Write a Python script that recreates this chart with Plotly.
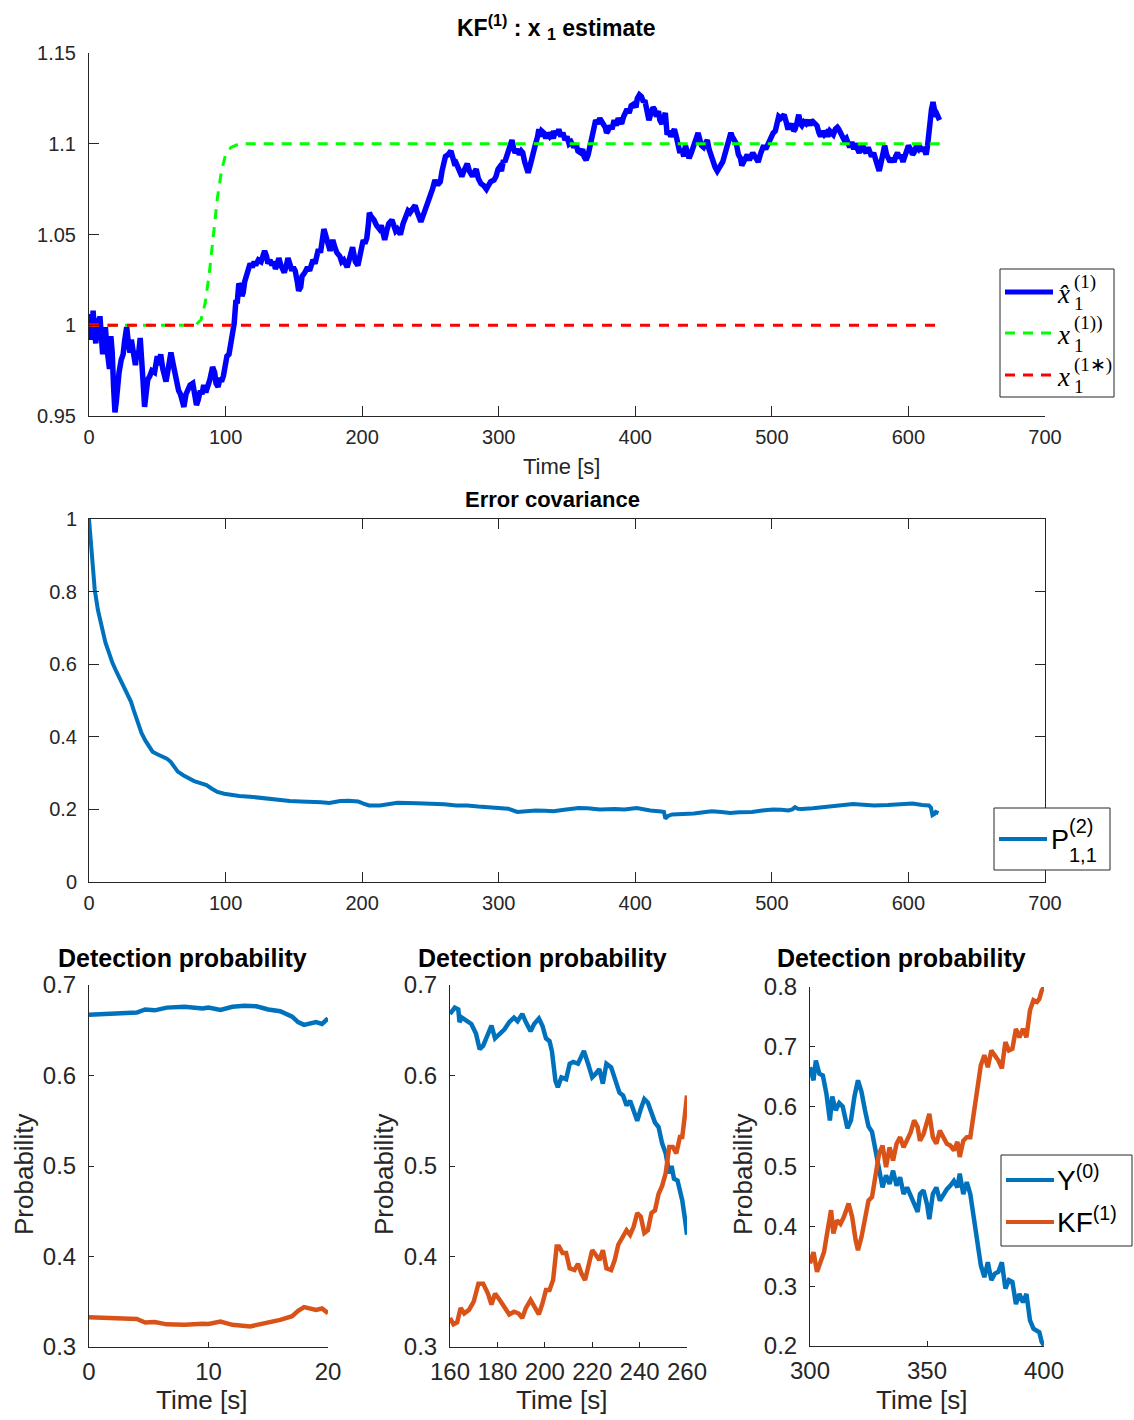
import plotly.graph_objects as go

# ---------------------------------------------------------------- data
# KF(1) estimate of x1 over time: (time [s], value)
x1_hat = [
    (0, 0.999), (1, 1.006), (2, 0.992), (3, 1.008), (4, 0.996), (5, 0.99), (6, 1.004), (7, 0.992),
    (8, 1.005), (9, 0.995), (10, 0.984), (11, 0.992), (12, 0.999), (13, 0.988), (14, 0.982), (15, 0.976),
    (16, 0.994), (17, 0.985), (18, 0.966), (19, 0.952), (20, 0.958), (21, 0.967), (22, 0.974), (23.6, 0.981),
    (25, 0.984), (26, 0.991), (27.6, 0.999), (29, 0.989), (30, 0.985), (31, 0.992), (32, 0.985), (33, 0.979),
    (34, 0.978), (35, 0.986), (36, 0.982), (37.5, 0.993), (38.5, 0.984), (39.5, 0.970), (40.7, 0.955), (42, 0.962),
    (43, 0.970), (44.5, 0.972), (46, 0.975), (48, 0.974), (50, 0.983), (51, 0.978), (52.5, 0.984), (54, 0.976),
    (55, 0.973), (56.4, 0.969), (58, 0.976), (60, 0.985), (61.5, 0.979), (63, 0.972), (65.6, 0.964), (67, 0.962),
    (68, 0.958), (69.5, 0.955), (71, 0.962), (72.5, 0.965), (74, 0.967), (76, 0.968), (77, 0.963), (78.7, 0.956),
    (80, 0.959), (81.5, 0.964), (82.7, 0.962), (84, 0.967), (85.5, 0.963), (87, 0.966), (88.5, 0.97), (90.5, 0.977),
    (92, 0.974), (93, 0.968), (94.5, 0.966), (96, 0.971), (97, 0.969), (98.4, 0.972), (100, 0.978), (101, 0.983),
    (102.5, 0.984), (104, 0.99), (105, 0.995), (106.3, 1.001), (107.6, 1.014), (108.5, 1.012), (109.7, 1.023), (111, 1.021),
    (112, 1.016), (112.9, 1.018), (114, 1.024), (115.5, 1.028), (117, 1.03), (118, 1.034), (119.5, 1.032), (121, 1.035),
    (122, 1.033), (124, 1.036), (126, 1.035), (127.5, 1.038), (128.6, 1.041), (130, 1.038), (131, 1.034), (132.5, 1.036),
    (134, 1.033), (135.3, 1.035), (136.5, 1.031), (138, 1.034), (139, 1.037), (140.5, 1.033), (142, 1.031), (143, 1.029),
    (144.5, 1.033), (145.7, 1.037), (147, 1.034), (148.5, 1.030), (149.6, 1.032), (151, 1.030), (152.5, 1.024), (153.5, 1.019),
    (155, 1.021), (156, 1.027), (158, 1.029), (160, 1.032), (161.5, 1.03), (163, 1.034), (164, 1.036), (165.5, 1.034),
    (167, 1.039), (168, 1.042), (169.5, 1.040), (171, 1.046), (172, 1.053), (173.5, 1.049), (175.3, 1.045), (176.5, 1.041),
    (177.5, 1.044), (178.5, 1.047), (180, 1.043), (181.5, 1.04), (183.7, 1.038), (185, 1.035), (186.5, 1.036), (188, 1.033),
    (189, 1.032), (190.5, 1.036), (192, 1.04), (193, 1.043), (194, 1.039), (195, 1.035), (196.9, 1.033), (198.5, 1.04),
    (200, 1.044), (200.8, 1.047), (202, 1.045), (203.4, 1.048), (204.5, 1.055), (205.3, 1.062), (206.5, 1.06), (208.7, 1.058),
    (210.5, 1.055), (212.6, 1.053), (214, 1.055), (215.5, 1.05), (216.5, 1.047), (218, 1.052), (219.5, 1.056), (221.8, 1.058),
    (223, 1.055), (224.5, 1.052), (225.7, 1.053), (227, 1.051), (228, 1.05), (230, 1.056), (231.5, 1.06), (233.6, 1.063),
    (235, 1.062), (236.5, 1.064), (238.8, 1.066), (240, 1.063), (241.5, 1.06), (243, 1.057), (244, 1.059), (245.5, 1.062),
    (247, 1.066), (249.3, 1.069), (250.5, 1.071), (251.5, 1.075), (253.3, 1.08), (254.5, 1.078), (256, 1.078), (257.2, 1.079),
    (258.5, 1.085), (259.5, 1.09), (261, 1.093), (263, 1.094), (265, 1.096), (266.5, 1.092), (268, 1.088), (269, 1.089),
    (270.5, 1.086), (272, 1.083), (273, 1.082), (274.5, 1.085), (276, 1.088), (277, 1.089), (278.5, 1.085), (280, 1.083),
    (280.8, 1.082), (282, 1.084), (283.5, 1.086), (285, 1.081), (287, 1.078), (289, 1.077), (291, 1.075), (292.5, 1.077),
    (294, 1.079), (296.6, 1.08), (298, 1.082), (299.5, 1.086), (300.5, 1.087), (302, 1.085), (303.5, 1.091), (304.5, 1.09),
    (306, 1.093), (307.5, 1.097), (308.5, 1.099), (309.7, 1.102), (311, 1.097), (312, 1.095), (313.5, 1.097), (315, 1.094),
    (316.5, 1.096), (317.6, 1.095), (319, 1.09), (320.5, 1.085), (321.5, 1.084), (323, 1.088), (324.5, 1.094), (325.5, 1.095),
    (327, 1.1), (328.5, 1.104), (329.4, 1.108), (330.5, 1.104), (331.5, 1.107), (333, 1.106), (334.5, 1.103), (336, 1.106),
    (337.5, 1.104), (338.6, 1.105), (340, 1.103), (341.5, 1.107), (343, 1.105), (344, 1.108), (345.5, 1.104), (347, 1.106),
    (348.5, 1.102), (350, 1.104), (351.5, 1.1), (353, 1.101), (355, 1.098), (356.5, 1.1), (358, 1.096), (360, 1.095),
    (361.5, 1.097), (362.5, 1.093), (364, 1.091), (365.5, 1.094), (367, 1.099), (368.5, 1.105), (370, 1.11), (371, 1.113),
    (372.5, 1.111), (374, 1.114), (376.4, 1.111), (378, 1.109), (379, 1.106), (380, 1.107), (381.5, 1.11), (383, 1.108),
    (384.5, 1.113), (386, 1.11), (387.5, 1.114), (389, 1.112), (390, 1.111), (391.5, 1.115), (393, 1.118), (394, 1.119),
    (395.5, 1.117), (397, 1.121), (399, 1.122), (400.5, 1.12), (401.5, 1.125), (403, 1.127), (404.5, 1.126), (406, 1.123),
    (407, 1.124), (408, 1.12), (409, 1.115), (410, 1.113), (411.5, 1.117), (413, 1.12), (414, 1.119), (415.5, 1.115),
    (417, 1.118), (418, 1.113), (419.5, 1.111), (421, 1.114), (422, 1.117), (423.3, 1.105), (424.5, 1.107), (426, 1.104),
    (427.5, 1.106), (428.6, 1.108), (430, 1.104), (431.5, 1.099), (432.7, 1.095), (434, 1.097), (435.5, 1.093), (436.7, 1.099),
    (438, 1.096), (439.4, 1.092), (441, 1.095), (442, 1.097), (443, 1.098), (444.5, 1.101), (446, 1.106), (447, 1.103),
    (448.5, 1.099), (450, 1.098), (451.5, 1.1), (452.7, 1.102), (454, 1.097), (455.5, 1.093), (456.8, 1.089), (458.5, 1.087),
    (460, 1.085), (461, 1.086), (462.5, 1.088), (464, 1.09), (465.5, 1.094), (467, 1.098), (468.5, 1.102), (470, 1.106),
    (471, 1.104), (472.5, 1.101), (474, 1.1), (475.5, 1.094), (477, 1.092), (478, 1.088), (479.5, 1.091), (481, 1.093),
    (482, 1.094), (483.5, 1.091), (485, 1.094), (486, 1.095), (487.5, 1.093), (489, 1.09), (490, 1.09), (491.5, 1.094),
    (493, 1.097), (494, 1.099), (495.5, 1.097), (497, 1.1), (498.5, 1.102), (499.6, 1.104), (501, 1.106), (502.5, 1.107),
    (504, 1.112), (505, 1.115), (506.5, 1.114), (508, 1.116), (509, 1.116), (510.5, 1.112), (511.5, 1.109), (513, 1.109),
    (514.5, 1.111), (516, 1.107), (517, 1.108), (518.5, 1.112), (519.7, 1.116), (521, 1.111), (522, 1.11), (523.5, 1.112),
    (525, 1.111), (526.5, 1.113), (528, 1.11), (529, 1.113), (530.5, 1.112), (532, 1.111), (533, 1.11), (534.5, 1.106),
    (535.7, 1.104), (537, 1.107), (538.5, 1.105), (539.8, 1.106), (541, 1.104), (542.5, 1.107), (544, 1.105), (545, 1.105),
    (546.5, 1.108), (548, 1.109), (549, 1.108), (550.5, 1.106), (552, 1.104), (553, 1.102), (554.5, 1.103), (556, 1.099),
    (557, 1.098), (558.5, 1.101), (560, 1.097), (561, 1.1), (562.5, 1.098), (564, 1.095), (565, 1.097), (566.5, 1.099),
    (568, 1.096), (569, 1.095), (570.5, 1.098), (572, 1.094), (573, 1.093), (574.5, 1.095), (576, 1.091), (577.5, 1.088),
    (578.6, 1.085), (579.5, 1.088), (581, 1.094), (582.6, 1.099), (584, 1.094), (585.5, 1.091), (586.6, 1.09), (588, 1.092),
    (589.5, 1.09), (590.6, 1.093), (592, 1.095), (593.5, 1.092), (594.5, 1.094), (596, 1.09), (597.5, 1.093), (599, 1.096),
    (600, 1.099), (601.5, 1.097), (603, 1.094), (604, 1.095), (605.5, 1.098), (607, 1.097), (608, 1.099), (609.5, 1.096),
    (611, 1.098), (612, 1.096), (613, 1.094), (614, 1.099), (614.7, 1.106), (615.5, 1.11), (616.2, 1.115), (616.9, 1.119),
    (617.5, 1.121), (618, 1.123), (619, 1.119), (620, 1.115), (621, 1.116), (622, 1.113), (622.8, 1.113),
]

# true parameter trajectory x1^(1)) and nominal value x1^(1*)
x1_true_t = [0, 78, 82, 85, 88, 91, 94, 97, 100, 104, 110, 623]
x1_true_v = [1.0, 1.0, 1.003, 1.012, 1.028, 1.048, 1.07, 1.085, 1.094, 1.098, 1.1, 1.1]
x1_nom_t = [0, 623]
x1_nom_v = [1.0, 1.0]

# error covariance P(2)_{1,1}
p11 = [
    (0, 1.0), (1, 0.95), (2.5, 0.88), (4.2, 0.805), (6.5, 0.75), (9.5, 0.695), (12, 0.66), (14.8, 0.63),
    (17, 0.605), (20, 0.58), (23, 0.556), (25.4, 0.537), (28, 0.515), (30.7, 0.497), (33, 0.47), (36, 0.432),
    (38.5, 0.41), (41.2, 0.39), (44, 0.372), (46.5, 0.359), (50, 0.352), (54.5, 0.345), (57, 0.34), (59.8, 0.331),
    (62, 0.318), (65, 0.304), (69, 0.294), (73, 0.285), (77, 0.278), (81, 0.273), (84, 0.27), (86, 0.267),
    (90, 0.257), (94, 0.248), (99, 0.243), (104.7, 0.239), (110, 0.237), (118, 0.235), (125, 0.232), (131, 0.228),
    (138, 0.225), (147, 0.223), (155, 0.222), (163, 0.222), (170, 0.22), (176, 0.218), (180, 0.221), (184, 0.223),
    (190, 0.224), (197, 0.222), (201, 0.216), (205, 0.211), (213, 0.211), (219, 0.215), (226, 0.218), (240, 0.217),
    (253, 0.216), (260, 0.214), (269, 0.211), (277, 0.211), (285, 0.208), (293, 0.206), (300, 0.203), (307, 0.202),
    (313.6, 0.193), (320, 0.195), (327, 0.197), (334, 0.196), (340, 0.195), (348, 0.199), (358.5, 0.204), (365, 0.203),
    (374, 0.2), (385, 0.201), (392, 0.2), (401, 0.204), (406, 0.2), (411, 0.197), (419, 0.194), (421, 0.193),
    (422, 0.175), (424, 0.182), (427, 0.186), (435, 0.187), (443, 0.189), (450, 0.192), (456, 0.195), (463, 0.193),
    (469.6, 0.19), (476, 0.192), (485.5, 0.193), (493, 0.197), (501, 0.2), (507, 0.199), (512, 0.197), (515, 0.2),
    (517, 0.206), (519, 0.202), (522, 0.201), (530, 0.203), (538, 0.206), (545, 0.208), (552, 0.212), (559.5, 0.215),
    (567, 0.213), (575, 0.211), (585, 0.212), (596.5, 0.215), (603, 0.216), (610, 0.212), (615, 0.211), (616.5, 0.205),
    (617.6, 0.184), (619, 0.187), (620, 0.193), (622, 0.19),
]

# detection probabilities, window 0-20 s
y0_w1 = [
    (0, 0.667), (2, 0.668), (4, 0.6695), (4.7, 0.673), (5.5, 0.672), (6.5, 0.675), (8, 0.676), (9.5, 0.674),
    (10, 0.675), (11, 0.6725), (12, 0.676), (13, 0.677), (14, 0.6765), (15, 0.673), (16, 0.671), (17, 0.665),
    (17.5, 0.659), (18, 0.656), (18.5, 0.657), (19, 0.659), (19.5, 0.657), (20, 0.663),
]
kf_w1 = [
    (0, 0.333), (2, 0.3325), (4, 0.331), (4.7, 0.327), (5.5, 0.3275), (6.5, 0.325), (8, 0.3245), (9.5, 0.3257),
    (10, 0.3255), (11, 0.328), (12, 0.3245), (13.5, 0.3228), (15, 0.3264), (16, 0.33), (17, 0.334),
    (17.5, 0.34), (18, 0.344), (18.5, 0.343), (19, 0.341), (19.5, 0.3426), (20, 0.3374),
]

# detection probabilities, window 160-260 s
y0_w2 = [
    (160, 0.668), (162, 0.675), (163.5, 0.673), (164, 0.659), (165, 0.664), (167, 0.66), (169, 0.657), (171, 0.646),
    (172.5, 0.629), (174, 0.633), (176, 0.644), (177.5, 0.655), (179, 0.641), (181, 0.646), (183, 0.651), (185, 0.659),
    (187, 0.664), (188.5, 0.66), (190.5, 0.668), (192, 0.659), (194, 0.649), (195.5, 0.657), (197.5, 0.663), (199, 0.655),
    (200.5, 0.641), (202, 0.638), (203, 0.627), (204.5, 0.594), (205.5, 0.587), (207, 0.598), (209, 0.596), (210.5, 0.613),
    (212, 0.615), (214, 0.613), (215, 0.62), (216.5, 0.627), (218.5, 0.611), (220, 0.598), (221.5, 0.602), (223, 0.607),
    (224.5, 0.591), (226, 0.613), (228, 0.609), (230, 0.591), (231.5, 0.581), (233, 0.578), (234.5, 0.567), (236, 0.572),
    (237.5, 0.561), (239, 0.55), (240.5, 0.563), (242, 0.574), (243.5, 0.57), (245, 0.557), (246.5, 0.548), (248, 0.543),
    (249.5, 0.525), (251, 0.514), (252.5, 0.492), (253.5, 0.5), (254.5, 0.486), (256, 0.484), (257, 0.475), (258, 0.462),
    (259, 0.444), (260, 0.424),
]
kf_w2 = [
    (160, 0.332), (161.5, 0.325), (163, 0.327), (164.5, 0.343), (166, 0.337), (168, 0.341), (170, 0.35), (172, 0.37),
    (174, 0.37), (176, 0.359), (177.5, 0.347), (179, 0.359), (181, 0.352), (183, 0.345), (185, 0.336), (187, 0.339),
    (189, 0.337), (190.5, 0.332), (192, 0.343), (194, 0.352), (195.5, 0.345), (197.5, 0.336), (199, 0.348), (200.5, 0.363),
    (202, 0.363), (203.5, 0.374), (205, 0.411), (206, 0.411), (207.5, 0.404), (209, 0.404), (210.5, 0.387), (212.5, 0.385),
    (214, 0.392), (215.5, 0.381), (217, 0.374), (218.5, 0.39), (220, 0.407), (221.5, 0.402), (223, 0.396), (224.5, 0.407),
    (226, 0.387), (228, 0.385), (229.5, 0.396), (231, 0.413), (233, 0.422), (234.5, 0.429), (236, 0.424), (237.5, 0.433),
    (239, 0.448), (240.5, 0.444), (242, 0.426), (243.5, 0.429), (245, 0.448), (246.5, 0.451), (248, 0.469), (249.5, 0.478),
    (251, 0.492), (252.5, 0.521), (254, 0.521), (255.5, 0.514), (257, 0.532), (258, 0.532), (259, 0.554), (260, 0.578),
]

# detection probabilities, window 300-400 s
y0_w3 = [
    (300, 0.666), (301.5, 0.644), (302.5, 0.677), (304, 0.655), (305.5, 0.652), (307, 0.622), (308.5, 0.577), (309.5, 0.617),
    (311, 0.594), (312.5, 0.606), (314, 0.6), (316, 0.564), (317.5, 0.577), (319, 0.617), (320.5, 0.644), (322, 0.625),
    (323.5, 0.594), (325, 0.567), (326.5, 0.558), (328, 0.527), (329.5, 0.488), (331, 0.465), (332.5, 0.485), (334, 0.471),
    (335.5, 0.493), (337, 0.468), (338.5, 0.482), (340, 0.454), (341.5, 0.465), (343, 0.451), (344.5, 0.437), (346, 0.424),
    (347, 0.454), (348.5, 0.46), (350, 0.437), (351, 0.412), (352.5, 0.454), (354, 0.465), (355.5, 0.443), (357, 0.454),
    (358.5, 0.462), (360, 0.468), (361.5, 0.476), (363, 0.465), (364, 0.488), (365.5, 0.454), (367, 0.474), (368.5, 0.454),
    (370, 0.415), (371.5, 0.376), (373, 0.335), (374.5, 0.315), (376, 0.34), (377.5, 0.31), (379, 0.321), (380.5, 0.324),
    (382, 0.34), (383.5, 0.296), (385, 0.31), (386.5, 0.307), (388, 0.27), (389.5, 0.287), (391, 0.273), (392.5, 0.287),
    (394, 0.243), (395.5, 0.229), (397, 0.226), (398, 0.223), (399, 0.207), (400, 0.201),
]
kf_w3 = [
    (300, 0.338), (301.5, 0.357), (303, 0.324), (304.5, 0.343), (306, 0.357), (307.5, 0.393), (309, 0.427), (310, 0.388),
    (311.5, 0.41), (313, 0.404), (314.5, 0.416), (316.5, 0.438), (318, 0.416), (319.5, 0.377), (320.5, 0.36), (322, 0.382),
    (323.5, 0.416), (325, 0.443), (326.5, 0.449), (328, 0.488), (329.5, 0.521), (331, 0.535), (332.5, 0.499), (334, 0.532),
    (335.5, 0.51), (337, 0.538), (338.5, 0.549), (340, 0.532), (341.5, 0.543), (343, 0.557), (344.5, 0.577), (346, 0.566),
    (347, 0.543), (348.5, 0.554), (350, 0.574), (351, 0.588), (352.5, 0.549), (354, 0.538), (355.5, 0.56), (357, 0.549),
    (358.5, 0.538), (360, 0.535), (361.5, 0.527), (363, 0.541), (364, 0.516), (365.5, 0.543), (367, 0.549), (368.5, 0.549),
    (370, 0.588), (371.5, 0.627), (373, 0.669), (374.5, 0.686), (376, 0.666), (377.5, 0.694), (379, 0.686), (380.5, 0.677),
    (382, 0.664), (383.5, 0.708), (385, 0.694), (386.5, 0.697), (388, 0.73), (389.5, 0.716), (391, 0.73), (392.5, 0.716),
    (394, 0.761), (395.5, 0.778), (397, 0.775), (398, 0.78), (399, 0.794), (400, 0.8),
]

# tick labels
top_x_ticks = [0, 100, 200, 300, 400, 500, 600, 700]
top_y_ticks = [0.95, 1.0, 1.05, 1.1, 1.15]
top_y_labels = ["0.95", "1", "1.05", "1.1", "1.15"]
cov_y_ticks = [0, 0.2, 0.4, 0.6, 0.8, 1.0]
cov_y_labels = ["0", "0.2", "0.4", "0.6", "0.8", "1"]
prob_y_ticks_a = [0.3, 0.4, 0.5, 0.6, 0.7]
prob_y_ticks_b = [0.2, 0.3, 0.4, 0.5, 0.6, 0.7, 0.8]
w1_x_ticks = [0, 10, 20]
w2_x_ticks = [160, 180, 200, 220, 240, 260]
w3_x_ticks = [300, 350, 400]

# ---------------------------------------------------------------- styling
W, H = 1134, 1420
BLUE_M = "#0072BD"
ORANGE_M = "#D95319"
AXC = "#262626"
SANS = "Liberation Sans, Arial, Helvetica, sans-serif"
SERIF = "Liberation Serif, Times New Roman, serif"


def fx(p):
    return p / W


def fy(p):
    return 1 - p / H


def cols(pairs):
    return [p[0] for p in pairs], [p[1] for p in pairs]


def axis(domain, rng, tickvals, ticktext, size, ticklen, anchor, mirror=False, standoff=3):
    return dict(
        domain=domain, range=rng, anchor=anchor, automargin=False,
        tickmode="array", tickvals=tickvals, ticktext=ticktext,
        showline=True, linecolor=AXC, linewidth=1, mirror=mirror,
        ticks="inside", ticklen=ticklen, tickwidth=1, tickcolor=AXC,
        showgrid=False, zeroline=False, fixedrange=True,
        tickfont=dict(family=SANS, size=size, color=AXC),
        ticklabelstandoff=standoff,
    )


fig = go.Figure()

# top panel
t, v = cols(x1_hat)
fig.add_trace(go.Scatter(x=t, y=v, mode="lines", line=dict(color="#0000FF", width=5.5),
                         name="x̂1(1)", showlegend=False, xaxis="x", yaxis="y"))
fig.add_trace(go.Scatter(x=x1_true_t, y=x1_true_v, mode="lines",
                         line=dict(color="#00FF00", width=3, dash="10px,8px"),
                         name="x1(1))", showlegend=False, xaxis="x", yaxis="y"))
fig.add_trace(go.Scatter(x=x1_nom_t, y=x1_nom_v, mode="lines",
                         line=dict(color="#FF0000", width=3, dash="10px,9px"),
                         name="x1(1*)", showlegend=False, xaxis="x", yaxis="y"))

# middle panel
t, v = cols(p11)
fig.add_trace(go.Scatter(x=t, y=v, mode="lines", line=dict(color=BLUE_M, width=4),
                         name="P(2)1,1", showlegend=False, xaxis="x2", yaxis="y2"))

# bottom panels
for pairs_y, pairs_k, xa, ya in [(y0_w1, kf_w1, "x3", "y3"),
                                 (y0_w2, kf_w2, "x4", "y4"),
                                 (y0_w3, kf_w3, "x5", "y5")]:
    t, v = cols(pairs_y)
    fig.add_trace(go.Scatter(x=t, y=v, mode="lines", line=dict(color=BLUE_M, width=4.5),
                             name="Y(0)", showlegend=False, xaxis=xa, yaxis=ya))
    t, v = cols(pairs_k)
    fig.add_trace(go.Scatter(x=t, y=v, mode="lines", line=dict(color=ORANGE_M, width=4.5),
                             name="KF(1)", showlegend=False, xaxis=xa, yaxis=ya))

layout = dict(
    template="none",
    width=W, height=H, autosize=False,
    margin=dict(l=0, r=0, t=0, b=0, pad=0),
    paper_bgcolor="white", plot_bgcolor="white",
    showlegend=False,
    xaxis=axis([fx(89), fx(1045)], [0, 700], top_x_ticks, [str(x) for x in top_x_ticks], 20, 10, "y"),
    yaxis=axis([fy(416), fy(53)], [0.95, 1.15], top_y_ticks, top_y_labels, 20, 10, "x", standoff=8),
    xaxis2=axis([fx(89), fx(1045)], [0, 700], top_x_ticks, [str(x) for x in top_x_ticks], 20, 10, "y2", mirror="ticks"),
    yaxis2=axis([fy(882), fy(519)], [0, 1], cov_y_ticks, cov_y_labels, 20, 10, "x2", mirror="ticks", standoff=7),
    xaxis3=axis([fx(89), fx(328)], [0, 20], w1_x_ticks, [str(x) for x in w1_x_ticks], 24, 5, "y3"),
    yaxis3=axis([fy(1347), fy(985)], [0.3, 0.7], prob_y_ticks_a, [f"{x:.1f}" for x in prob_y_ticks_a], 24, 5, "x3", standoff=7),
    xaxis4=axis([fx(450), fx(687)], [160, 260], w2_x_ticks, [str(x) for x in w2_x_ticks], 24, 5, "y4"),
    yaxis4=axis([fy(1347), fy(985)], [0.3, 0.7], prob_y_ticks_a, [f"{x:.1f}" for x in prob_y_ticks_a], 24, 5, "x4", standoff=7),
    xaxis5=axis([fx(810), fx(1044)], [300, 400], w3_x_ticks, [str(x) for x in w3_x_ticks], 24, 5, "y5"),
    yaxis5=axis([fy(1346), fy(987)], [0.2, 0.8], prob_y_ticks_b, [f"{x:.1f}" for x in prob_y_ticks_b], 24, 5, "x5", standoff=7),
)
fig.update_layout(**layout)

annotations = []
shapes = []


def text(s, x, y, size, family=SANS, anchor="center", angle=0, color="black"):
    annotations.append(dict(text=s, x=fx(x), y=fy(y), xref="paper", yref="paper",
                            xanchor=anchor, yanchor="middle", showarrow=False, textangle=angle,
                            font=dict(family=family, size=size, color=color)))


# titles
text("<b>KF<sup>(1)</sup> : x <sub>1</sub> estimate</b>", 556, 27, 23)
text("<b>Error covariance</b>", 552, 500, 22)
for cx in (182, 542, 901):
    text("<b>Detection probability</b>", cx, 958, 25)

# axis titles
text("Time [s]", 561, 466, 22, color=AXC)
for cx in (201, 561, 921):
    text("Time [s]", cx, 1400, 26, color=AXC)
for cx in (24, 384, 743):
    text("Probability", cx, 1175, 26, angle=-90, color=AXC)


def legend_box(x0, y0, x1, y1):
    shapes.append(dict(type="rect", xref="paper", yref="paper", x0=fx(x0), x1=fx(x1), y0=fy(y1), y1=fy(y0),
                       line=dict(color=AXC, width=1), fillcolor="white", layer="above"))


def legend_line(x0, x1, y, color, width, dash="solid"):
    shapes.append(dict(type="line", xref="paper", yref="paper", x0=fx(x0), x1=fx(x1), y0=fy(y), y1=fy(y),
                       line=dict(color=color, width=width, dash=dash), layer="above"))


# legend: top panel
legend_box(1000, 269, 1114, 397)
for ly, color, dash, width, hat, sup in [(292, "#0000FF", "solid", 5, True, "(1)"),
                                         (333, "#00FF00", "10px,8px", 3, False, "(1))"),
                                         (375, "#FF0000", "10px,8px", 3, False, "(1∗)")]:
    legend_line(1005, 1053, ly, color, width, dash)
    text("<i>x̂</i>" if hat else "<i>x</i>", 1055, ly + 2, 27, family=SERIF, anchor="left")
    text(sup, 1072, ly - 10, 19, family=SERIF, anchor="left")
    text("1", 1072, ly + 12, 19, family=SERIF, anchor="left")

# legend: covariance panel
legend_box(994, 808, 1110, 870)
legend_line(999, 1047, 839, BLUE_M, 4)
text("P", 1049, 840, 27, anchor="left")
text("(2)", 1067, 826, 20, anchor="left")
text("1,1", 1067, 855, 20, anchor="left")

# legend: detection probability
legend_box(1001, 1155, 1132, 1246)
legend_line(1006, 1054, 1180, BLUE_M, 4)
legend_line(1006, 1054, 1222, ORANGE_M, 4)
text("Y<sup>(0)</sup>", 1055, 1178, 28, anchor="left")
text("KF<sup>(1)</sup>", 1055, 1220, 28, anchor="left")

fig.update_layout(annotations=annotations, shapes=shapes)

fig.write_html("out.html")
